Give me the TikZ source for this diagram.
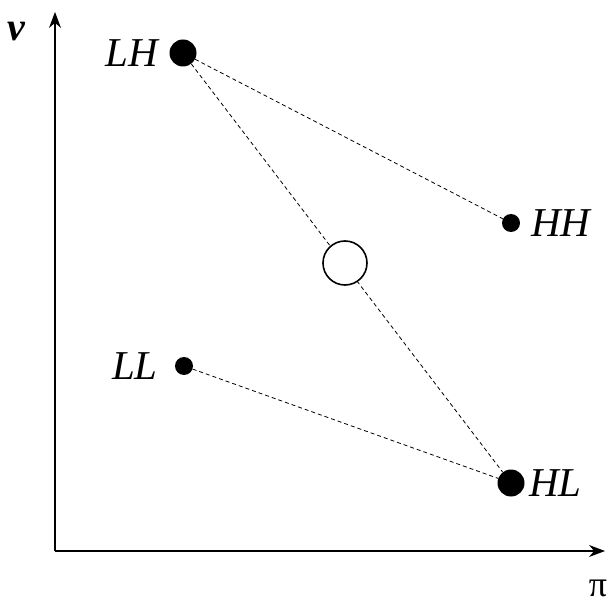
\documentclass[tikz,border=0pt]{standalone}
\usepackage{fontspec}
\setmainfont{Liberation Serif}
\usetikzlibrary{arrows.meta}
\begin{document}
\begin{tikzpicture}[x=1pt,y=-1pt,
  lbl/.style={font=\fontsize{41}{46}\selectfont\itshape, inner sep=0pt},
  bigdot/.style={circle, fill=black, minimum size=27pt, inner sep=0pt},
  smalldot/.style={circle, fill=black, minimum size=18pt, inner sep=0pt},
  opendot/.style={circle, draw=black, line width=1.6pt, fill=white, minimum size=44pt, inner sep=0pt},
  conn/.style={line width=0.8pt, dash pattern=on 4pt off 3pt},
  axis/.style={line width=1.4pt, -{Stealth[length=16pt,width=12pt]}}]
\useasboundingbox (0,0) rectangle (611,604);
\coordinate (o) at (55,551);
\coordinate (yend) at (55,12);
\coordinate (xend) at (605,551);
\draw[axis] (o) -- (yend);
\draw[axis] (o) -- (xend);
\node[font=\fontsize{40}{44}\selectfont\bfseries\itshape, inner sep=0pt] (v) at (16,32) {v};
\node[font=\fontsize{36}{40}\selectfont, inner sep=0pt] (pi) at (598,588) {π};
\node[bigdot] (LH) at (183,53) {};
\node[smalldot] (HH) at (511,223) {};
\node[smalldot] (LL) at (184,366) {};
\node[bigdot] (HL) at (511,483) {};
\draw[conn] (LH) -- (HH);
\draw[conn] (LH) -- (HL);
\draw[conn] (LL) -- (HL);
\node[opendot] (M) at (345,263) {};
\node[lbl, anchor=east] (tLH) at (158,53) {LH};
\node[lbl, anchor=west] (tHH) at (531,223) {HH};
\node[lbl, anchor=east] (tLL) at (158,366) {LL};
\node[lbl, anchor=west] (tHL) at (529,483) {HL};
\end{tikzpicture}
\end{document}
